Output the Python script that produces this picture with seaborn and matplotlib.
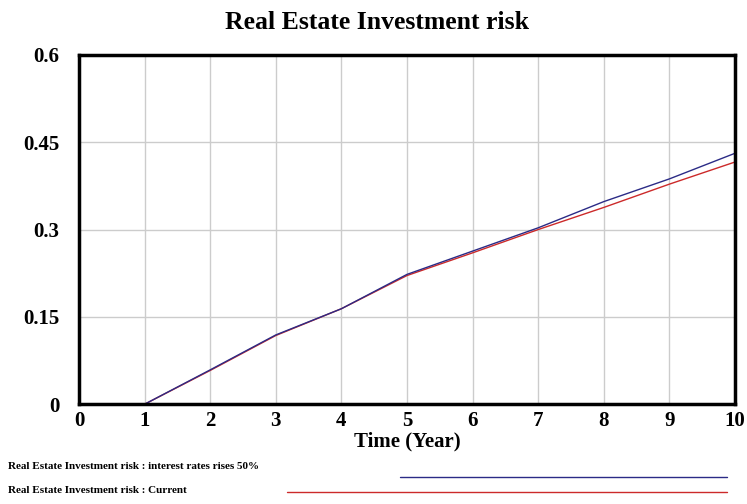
import numpy as np
import pandas as pd
import matplotlib.pyplot as plt
import seaborn as sns
from matplotlib.lines import Line2D

# data
years = [0, 1, 2, 3, 4, 5, 6, 7, 8, 9, 10]
risk_rates_up = [0.0, 0.0, 0.059, 0.119, 0.164, 0.223, 0.263, 0.303, 0.348, 0.387, 0.431]
risk_current = [0.0, 0.0, 0.058, 0.118, 0.164, 0.221, 0.260, 0.300, 0.338, 0.378, 0.416]
series_names = ['Real Estate Investment risk : interest rates rises 50%',
                'Real Estate Investment risk : Current']
yticks = [0, 0.15, 0.3, 0.45, 0.6]
ytick_labels = ['0', '0.15', '0.3', '0.45', '0.6']

# current first so the 50% run is drawn on top
df = pd.DataFrame({
    'year': years * 2,
    'risk': risk_current + risk_rates_up,
    'run': [series_names[1]] * len(years) + [series_names[0]] * len(years),
})

sns.set_style('white')
plt.rcParams['font.family'] = ['Liberation Serif', 'DejaVu Serif']
plt.rcParams['font.weight'] = 'bold'
plt.rcParams['text.color'] = 'black'
plt.rcParams['axes.labelcolor'] = 'black'
plt.rcParams['xtick.color'] = 'black'
plt.rcParams['ytick.color'] = 'black'

colors = {series_names[0]: '#2b2b86', series_names[1]: '#cc2a2a'}

fig = plt.figure(figsize=(7.47, 5.04), dpi=100)
ax = fig.add_axes([0.1058, 0.198, 0.878, 0.693])

sns.lineplot(data=df, x='year', y='risk', hue='run', palette=colors,
             hue_order=[series_names[1], series_names[0]],
             linewidth=1.0, ax=ax, legend=False)

ax.set_xlim(0, 10)
ax.set_ylim(0, 0.595)
ax.set_xticks(years)
ax.set_xticklabels([str(y) for y in years], fontsize=15, fontweight='bold')
ax.set_yticks(yticks)
ax.set_yticklabels(ytick_labels, fontsize=15, fontweight='bold')
ax.tick_params(axis='x', length=0, pad=5)
ax.tick_params(axis='y', length=0, pad=14)
ax.grid(True, color='#cccccc', linewidth=1.0)
for s in ax.spines.values():
    s.set_color('black')
    s.set_linewidth(2.5)
    s.set_visible(True)

ax.set_xlabel('Time (Year)', fontsize=15, fontweight='bold', labelpad=0)
ax.set_ylabel('')
fig.text(0.505, 0.955, 'Real Estate Investment risk', ha='center', va='center',
         fontsize=18.5, fontweight='bold')

# legend rows below the chart
fig.text(0.011, 0.075, series_names[0], fontsize=8, fontweight='bold',
         va='center', ha='left')
fig.text(0.011, 0.027, series_names[1], fontsize=8, fontweight='bold',
         va='center', ha='left')
fig.add_artist(Line2D([0.536, 0.973], [0.054, 0.054], color=colors[series_names[0]],
                      linewidth=1.0, transform=fig.transFigure))
fig.add_artist(Line2D([0.384, 0.973], [0.024, 0.024], color=colors[series_names[1]],
                      linewidth=1.0, transform=fig.transFigure))

fig.savefig('out.png', dpi=100)
